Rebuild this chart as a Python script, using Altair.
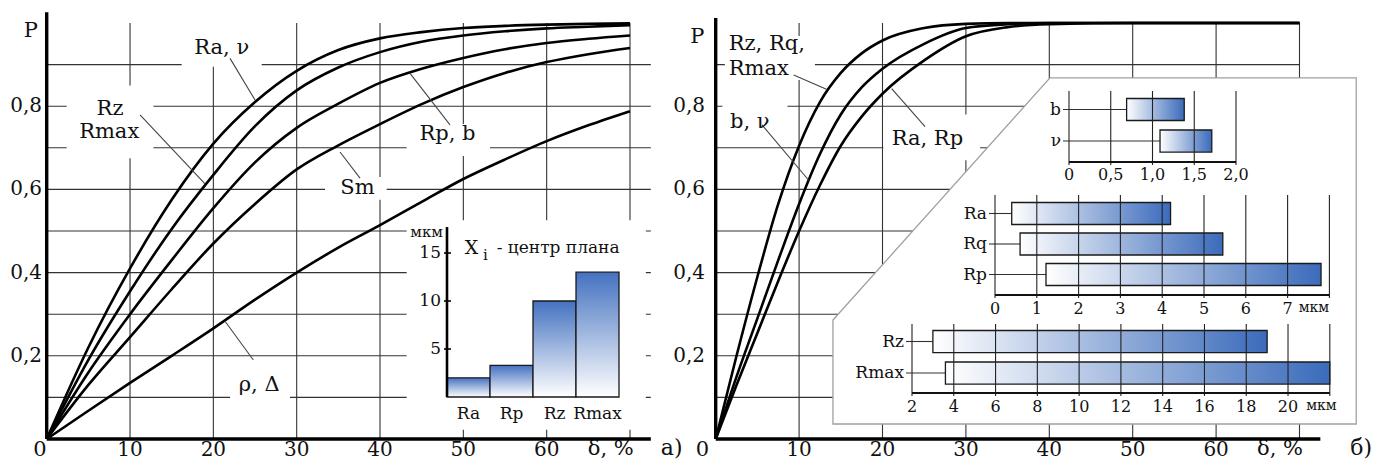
import altair as alt
import pandas as pd

# ======================= DATA =======================
# panel а): probability P versus δ, %
delta_a = [0, 5, 10, 15, 20, 25, 30, 35, 40, 45, 50, 55, 60, 65, 70]
p_ra_nu = [0, 0.22, 0.41, 0.575, 0.71, 0.81, 0.885, 0.935, 0.963, 0.978, 0.988, 0.993, 0.996, 0.998, 0.999]
p_rz_rmax = [0, 0.19, 0.355, 0.505, 0.635, 0.752, 0.838, 0.893, 0.93, 0.955, 0.97, 0.98, 0.987, 0.991, 0.995]
p_rp_b = [0, 0.16, 0.30, 0.43, 0.555, 0.665, 0.748, 0.806, 0.856, 0.89, 0.916, 0.937, 0.952, 0.962, 0.97]
p_sm = [0, 0.13, 0.245, 0.36, 0.47, 0.565, 0.648, 0.706, 0.757, 0.805, 0.846, 0.88, 0.906, 0.925, 0.94]
p_rho_delta = [0, 0.068, 0.135, 0.2, 0.266, 0.335, 0.40, 0.46, 0.514, 0.57, 0.625, 0.672, 0.716, 0.754, 0.788]
series_a = ["Ra, ν", "Rz, Rmax", "Rp, b", "Sm", "ρ, Δ"]

# panel б)
delta_b = [0, 2.5, 5, 7.5, 10, 12.5, 15, 17.5, 20, 25, 30, 35, 40, 50, 60, 70]
p_rz_rq_rmax = [0, 0.2, 0.39, 0.565, 0.705, 0.81, 0.88, 0.927, 0.958, 0.988, 0.998, 1.0, 1.0, 1.0, 1.0, 1.0]
p_b_nu = [0, 0.15, 0.29, 0.43, 0.565, 0.685, 0.78, 0.845, 0.89, 0.95, 0.988, 0.997, 1.0, 1.0, 1.0, 1.0]
p_ra_rp = [0, 0.13, 0.255, 0.38, 0.5, 0.61, 0.705, 0.775, 0.83, 0.91, 0.968, 0.99, 0.997, 1.0, 1.0, 1.0]
series_b = ["Rz, Rq, Rmax", "b, ν", "Ra, Rp"]

# inset а): X_i - центр плана, мкм
centre_params = ["Ra", "Rp", "Rz", "Rmax"]
centre_values = [2.0, 3.3, 10.0, 13.0]

# insets б): ranges, мкм
small_params = ["b", "ν"]
small_lo = [0.69, 1.09]
small_hi = [1.38, 1.71]
mid_params = ["Ra", "Rq", "Rp"]
mid_lo = [0.40, 0.60, 1.22]
mid_hi = [4.20, 5.45, 7.80]
big_params = ["Rz", "Rmax"]
big_lo = [3.0, 3.6]
big_hi = [19.0, 22.0]

# ticks and texts
main_x_ticks = [10, 20, 30, 40, 50, 60]
main_y_ticks = [0.2, 0.4, 0.6, 0.8]
main_y_labels = ["0,2", "0,4", "0,6", "0,8"]
grid_delta = [10, 20, 30, 40, 50, 60, 70]
grid_p = [0.1, 0.2, 0.3, 0.4, 0.5, 0.6, 0.7, 0.8, 0.9]
centre_ticks = [5, 10, 15]
small_grid = [0, 0.5, 1.0, 1.5, 2.0]
small_labels = ["0", "0,5", "1,0", "1,5", "2,0"]
mid_grid = [0, 1, 2, 3, 4, 5, 6, 7, 8]
mid_labels = ["0", "1", "2", "3", "4", "5", "6", "7", ""]
big_grid = [2, 4, 6, 8, 10, 12, 14, 16, 18, 20, 22]
big_labels = ["2", "4", "6", "8", "10", "12", "14", "16", "18", "20", ""]
labels_a = ["Ra, ν", "Rz", "Rmax", "Rp, b", "Sm", "ρ,  Δ"]
labels_b = ["Rz, Rq,", "Rmax", "b, ν", "Ra, Rp"]

# ======================= LAYOUT =======================
M = 8  # page margin
SERIF = "DejaVu Serif"
GRID = "#333333"
INK = "#111111"
BLUE_H = "#3b6bbb"
BLUE_V = "#4472c0"
FT = 20  # main tick text size
FS = 21  # main label size
FI = 17  # inset text size


def lin(domain, a, b):
    return alt.Scale(domain=domain, range=[a - M, b - M], nice=False, zero=False)


def band(domain, a, b, pi, po):
    return alt.Scale(domain=domain, range=[a - M, b - M], paddingInner=pi, paddingOuter=po)


GRAD_H = alt.Gradient(gradient="linear",
                      stops=[alt.GradientStop(color="#ffffff", offset=0),
                             alt.GradientStop(color=BLUE_H, offset=1)],
                      x1=0, x2=1, y1=0, y2=0)
GRAD_V = alt.Gradient(gradient="linear",
                      stops=[alt.GradientStop(color=BLUE_V, offset=0),
                             alt.GradientStop(color="#ffffff", offset=1)],
                      x1=0, x2=0, y1=0, y2=1)

UNITS = []  # every unit chart, layered flat with independent scales


def qx(f, s):
    return alt.X(f, type="quantitative", scale=s, axis=None)


def qy(f, s):
    return alt.Y(f, type="quantitative", scale=s, axis=None)


def nx(f, s, order):
    return alt.X(f, type="nominal", scale=s, axis=None, sort=order)


def ny(f, s, order):
    return alt.Y(f, type="nominal", scale=s, axis=None, sort=order)


def add_text(df, xenc, yenc, size, align="center", dx=0, text_field="t"):
    UNITS.append(alt.Chart(df).mark_text(font=SERIF, fontSize=size, align=align, baseline="middle",
                                         dx=dx, color=INK).encode(
        x=xenc, y=yenc, text=alt.Text(text_field, type="nominal")))


def main_panel(xs, ys, d_vals, series_vals, names, hgrid_end, yaxis_top, boxes,
               polygon, leaders, txt_center, txt_left, ytick_d, extra_texts):
    vg = pd.DataFrame({"d": grid_delta, "p0": 0.0, "p1": 1.0})
    UNITS.append(alt.Chart(vg).mark_rule(color=GRID, strokeWidth=1.1).encode(
        x=qx("d", xs), y=qy("p0", ys), y2="p1"))
    hg = pd.DataFrame({"p": grid_p, "d0": 0.0, "d1": hgrid_end})
    UNITS.append(alt.Chart(hg).mark_rule(color=GRID, strokeWidth=1.1).encode(
        x=qx("d0", xs), x2="d1", y=qy("p", ys)))
    bx = pd.DataFrame(boxes, columns=["d0", "d1", "p0", "p1"])
    UNITS.append(alt.Chart(bx).mark_rect(fill="white", strokeWidth=0, opacity=1).encode(
        x=qx("d0", xs), x2="d1", y=qy("p0", ys), y2="p1"))
    if polygon is not None:
        pg = pd.DataFrame(polygon, columns=["d", "top", "bot"])
        UNITS.append(alt.Chart(pg).mark_area(fill="white", stroke="#a0a0a0", strokeWidth=1.3,
                                             opacity=1, interpolate="linear").encode(
            x=qx("d", xs), y=qy("top", ys), y2="bot"))
    rows = []
    for name, ps in zip(names, series_vals):
        for d, p in zip(d_vals, ps):
            rows.append({"s": name, "d": d, "p": p})
    UNITS.append(alt.Chart(pd.DataFrame(rows)).mark_line(color="black", strokeWidth=2.6,
                                                         interpolate="monotone").encode(
        x=qx("d", xs), y=qy("p", ys), detail="s:N"))
    ld = pd.DataFrame(leaders, columns=["d0", "p0", "d1", "p1"])
    UNITS.append(alt.Chart(ld).mark_rule(color="#444444", strokeWidth=1.1).encode(
        x=qx("d0", xs), y=qy("p0", ys), x2="d1", y2="p1"))
    if txt_center:
        add_text(pd.DataFrame(txt_center, columns=["t", "d", "p"]), qx("d", xs), qy("p", ys), FS)
    if txt_left:
        add_text(pd.DataFrame(txt_left, columns=["t", "d", "p"]), qx("d", xs), qy("p", ys), FS, "left")
    for (t, d, p, size, align) in extra_texts:
        add_text(pd.DataFrame({"t": [t], "d": [d], "p": [p]}), qx("d", xs), qy("p", ys), size, align)
    xt = pd.DataFrame({"d": main_x_ticks, "t": [str(v) for v in main_x_ticks], "p": -0.026})
    add_text(xt, qx("d", xs), qy("p", ys), FT)
    yt = pd.DataFrame({"p": main_y_ticks, "t": main_y_labels, "d": ytick_d})
    add_text(yt, qx("d", xs), qy("p", ys), FT, "right")
    ax = pd.DataFrame({"d0": [0.0], "d1": [72.5], "p": [0.0]})
    UNITS.append(alt.Chart(ax).mark_rule(color="black", strokeWidth=3.4).encode(
        x=qx("d0", xs), x2="d1", y=qy("p", ys)))
    ay = pd.DataFrame({"d": [0.0], "p0": [0.0], "p1": [yaxis_top]})
    UNITS.append(alt.Chart(ay).mark_rule(color="black", strokeWidth=3.4).encode(
        x=qx("d", xs), y=qy("p0", ys), y2="p1"))


# ---------------- panel а) ----------------
XA = lin([0, 70], 46.7, 630)
YA = lin([0, 1], 439, 23)
main_panel(
    XA, YA, delta_a, [p_ra_nu, p_rz_rmax, p_rp_b, p_sm, p_rho_delta], series_a,
    hgrid_end=72.5, yaxis_top=1.026,
    boxes=[(16.2, 25.8, 0.895, 1.01), (2.4, 12.8, 0.675, 0.85), (43.2, 53.2, 0.68, 0.757),
           (33.4, 40.8, 0.575, 0.63), (22.0, 29.2, 0.08, 0.165), (43.2, 71.9, 0.022, 0.526)],
    polygon=None,
    leaders=[(22.0, 0.915, 25.0, 0.815), (11.2, 0.779, 19.0, 0.613), (43.6, 0.879, 48.4, 0.755),
             (35.2, 0.69, 37.6, 0.627), (21.4, 0.283, 24.8, 0.19)],
    txt_center=[("P", -1.9, 0.98), (labels_a[0], 21.0, 0.939), (labels_a[1], 7.6, 0.794),
                (labels_a[2], 7.5, 0.737), (labels_a[3], 48.1, 0.733), (labels_a[4], 37.3, 0.603),
                (labels_a[5], 25.5, 0.131), ("0", -0.8, -0.026), ("δ, %", 67.7, -0.024)],
    txt_left=[],
    ytick_d=-0.56,
    extra_texts=[("а)", 75.0, -0.021, 22, "center"),
                 ("X", 50.98, 0.458, 19, "center"),
                 ("i", 52.65, 0.443, 15, "center"),
                 ("- центр плана", 54.0, 0.459, 17, "left"),
                 ("мкм", 47.56, 0.497, 15, "right")],
)

# ---------------- inset а): centre of plan ----------------
XI = band(centre_params, 447, 619, 0, 0)
YI = lin([0, 18], 397, 224.2)
cdf = pd.DataFrame({"param": centre_params, "v": centre_values, "base": 0.0, "laby": -1.72})
UNITS.append(alt.Chart(cdf).mark_bar(fill=GRAD_V, stroke="#1a1a1a", strokeWidth=1.3, opacity=1).encode(
    x=nx("param", XI, centre_params), y=qy("v", YI), y2="base"))
UNITS.append(alt.Chart(pd.DataFrame({"y0": [0.0], "y1": [17.7]})).mark_rule(
    color="black", strokeWidth=2.6).encode(x=alt.value(447 - M), y=qy("y0", YI), y2="y1"))
UNITS.append(alt.Chart(pd.DataFrame({"v": centre_ticks})).mark_rule(color="black", strokeWidth=1.6).encode(
    x=alt.value(444 - M), x2=alt.value(451 - M), y=qy("v", YI)))
add_text(pd.DataFrame({"v": centre_ticks, "t": [str(v) for v in centre_ticks]}),
         alt.value(441 - M), qy("v", YI), FI, "right")
add_text(cdf, nx("param", XI, centre_params), qy("laby", YI), FI, text_field="param")

# ---------------- panel б) ----------------
XB = lin([0, 70], 715.7, 1299.5)
YB = lin([0, 1], 439, 23)
main_panel(
    XB, YB, delta_b, [p_rz_rq_rmax, p_b_nu, p_ra_rp], series_b,
    hgrid_end=70.0, yaxis_top=1.012,
    boxes=[(1.1, 11.9, 0.863, 0.969), (0.8, 8.6, 0.738, 0.815), (20.1, 31.7, 0.67, 0.78)],
    polygon=[(14.06, 0.286, 0.036), (40.08, 0.868, 0.036), (76.8, 0.868, 0.036)],
    leaders=[(9.35, 0.875, 13.35, 0.84), (5.55, 0.755, 11.15, 0.622), (21.1, 0.842, 25.1, 0.751)],
    txt_center=[("P", -2.2, 0.966), ("0", -1.58, -0.026), ("δ, %", 67.66, -0.024)],
    txt_left=[(labels_b[0], 1.56, 0.949), (labels_b[1], 1.56, 0.889), (labels_b[2], 1.71, 0.761),
              (labels_b[3], 21.1, 0.722)],
    ytick_d=-1.28,
    extra_texts=[("б)", 77.4, -0.021, 22, "center")],
)


def range_inset(params, lo, hi, xs, ys, grid, glabels, xmin, grid_top, axis_y, label_y, unit=None):
    df = pd.DataFrame({"param": params, "lo": lo, "hi": hi, "start": float(xmin)})
    gd = pd.DataFrame({"t": grid, "lab": glabels})
    UNITS.append(alt.Chart(df).mark_rule(color="#333333", strokeWidth=1.1, xOffset=-6).encode(
        x=qx("start", xs), x2="lo", y=ny("param", ys, params)))
    UNITS.append(alt.Chart(df).mark_bar(fill=GRAD_H, stroke="#1a1a1a", strokeWidth=1.3, opacity=1).encode(
        x=qx("lo", xs), x2="hi", y=ny("param", ys, params)))
    UNITS.append(alt.Chart(gd).mark_rule(color="#222222", strokeWidth=1.1).encode(
        x=qx("t", xs), y=alt.value(grid_top - M), y2=alt.value(axis_y + 3 - M)))
    UNITS.append(alt.Chart(pd.DataFrame({"a": [float(grid[0])], "b": [float(grid[-1])]})).mark_rule(
        color="#111111", strokeWidth=1.9).encode(x=qx("a", xs), x2="b", y=alt.value(axis_y - M)))
    add_text(gd, qx("t", xs), alt.value(label_y - M), 16, text_field="lab")
    add_text(df, qx("start", xs), ny("param", ys, params), FI, "right", dx=-8, text_field="param")
    if unit is not None:
        add_text(pd.DataFrame({"u": [unit], "t": ["мкм"]}), qx("u", xs), alt.value(label_y - 1 - M), 14)


range_inset(small_params, small_lo, small_hi,
            lin([0, 2], 1069, 1236), band(small_params, 93.75, 156.75, 0.3, 0.15),
            small_grid, small_labels, 0, 91, 162, 175)
range_inset(mid_params, mid_lo, mid_hi,
            lin([0, 8], 995, 1329.4), band(mid_params, 198.25, 289.75, 0.28, 0.14),
            mid_grid, mid_labels, 0, 195, 295, 309, unit=7.63)
range_inset(big_params, big_lo, big_hi,
            lin([2, 22], 912, 1329.8), band(big_params, 325.75, 388.75, 0.3, 0.15),
            big_grid, big_labels, 2, 324, 393, 407, unit=21.6)

chart = alt.layer(*UNITS).resolve_scale(
    x="independent", y="independent"
).properties(
    width=1371, height=456, padding=0, autosize=alt.AutoSizeParams(type="none")
).configure(
    font=SERIF
).configure_view(strokeWidth=0)

chart.save("out.html", embed_options={"renderer": "svg", "actions": False})
